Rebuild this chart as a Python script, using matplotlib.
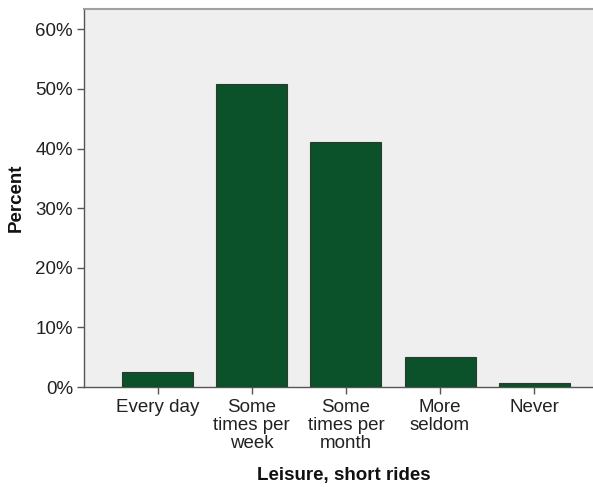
import matplotlib
matplotlib.use("Agg")
import matplotlib.pyplot as plt
from matplotlib.ticker import FuncFormatter

categories = ["Every day", "Some\ntimes per\nweek", "Some\ntimes per\nmonth", "More\nseldom", "Never"]
percent = [2.5, 50.9, 41.1, 5.1, 0.6]
yticks = [0, 10, 20, 30, 40, 50, 60]

plt.rcParams['font.family'] = ['Liberation Sans', 'DejaVu Sans']

fig = plt.figure(figsize=(5.93, 4.87), dpi=100)
ax = fig.add_axes([84/593, 100/487, 1 - 84/593, (387-9)/487])
ax.set_facecolor('#efefef')

x = list(range(len(categories)))
ax.bar(x, percent, width=0.755, color='#0b5129', edgecolor='#2a3a2e', linewidth=0.8, zorder=3)

ax.set_xlim(-0.783, 4.625)
ax.set_ylim(0, 63.4)
ax.set_yticks(yticks)
ax.yaxis.set_major_formatter(FuncFormatter(lambda v, p: f"{v:.0f}%"))
ax.set_xticks(x)
ax.set_xticklabels(categories, fontsize=13.5, color='#222222', linespacing=1.07)
ax.tick_params(axis='y', labelsize=13.5, labelcolor='#222222', length=5, color='#555555', width=1, pad=3)
ax.tick_params(axis='x', length=5, color='#555555', width=1, pad=4)

for s in ['left', 'bottom']:
    ax.spines[s].set_color('#555555')
    ax.spines[s].set_linewidth(1.0)
ax.spines['top'].set_color('#a0a0a0')
ax.spines['top'].set_linewidth(1.5)
ax.spines['right'].set_visible(False)

ax.set_ylabel("Percent", fontsize=13.5, fontweight='bold', color='#111111')
ax.yaxis.set_label_coords(-0.116, 0.5)
ax.set_xlabel("Leisure, short rides", fontsize=13.5, fontweight='bold', color='#111111')
ax.xaxis.set_label_coords(0.511, -0.212)

fig.savefig("out.png", dpi=100)
